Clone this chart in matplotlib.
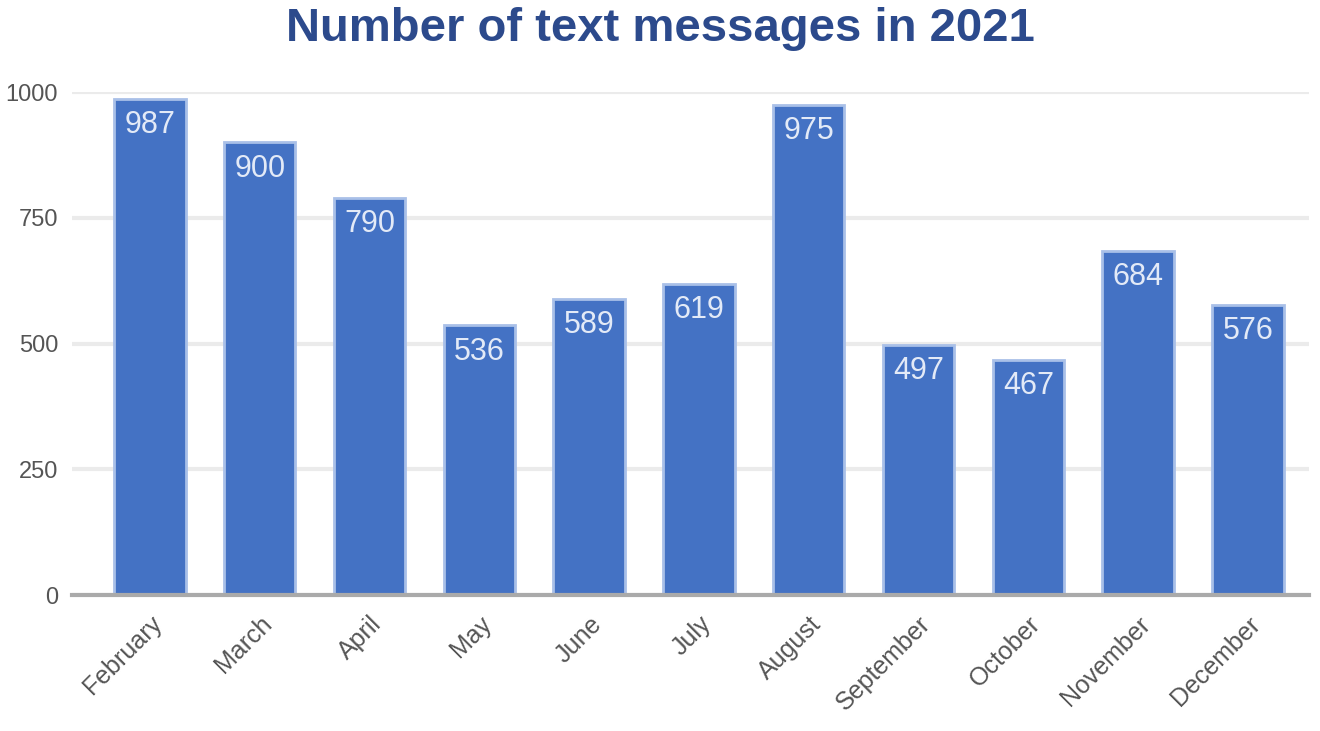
import matplotlib.pyplot as plt

months = ['February', 'March', 'April', 'May', 'June', 'July', 'August',
          'September', 'October', 'November', 'December']
messages = [987, 900, 790, 536, 589, 619, 975, 497, 467, 684, 576]
yticks = [0, 250, 500, 750, 1000]

plt.rcParams['font.family'] = ['Liberation Sans', 'DejaVu Sans']

fig = plt.figure(figsize=(13.2, 7.31), dpi=100)
ax = fig.add_axes([0.0545, 0.186, 0.9375, 0.688])

x = list(range(len(months)))
bars = ax.bar(x, messages, width=0.65, color='#4472C4',
              edgecolor='#A9C0E8', linewidth=2, zorder=3)

for xi, v in zip(x, messages):
    ax.annotate(str(v), (xi, v), xytext=(0, -8), textcoords='offset points',
                ha='center', va='top', fontsize=22, color='#E3EAF7', zorder=4)

ax.set_xlim(-0.71, 10.56)
ax.set_ylim(0, 1000)
ax.set_yticks(yticks)
ax.set_yticklabels([str(t) for t in yticks], fontsize=17, color='#555555')
ax.set_xticks(x)
ax.set_xticklabels(months, rotation=45, ha='right', rotation_mode='anchor',
                   fontsize=18, color='#555555')
ax.tick_params(axis='both', length=0, pad=12)
ax.tick_params(axis='y', pad=10)

ax.grid(axis='y', color='#EBEBEB', linewidth=3, zorder=0)
ax.set_axisbelow(True)
for side in ['top', 'right', 'left']:
    ax.spines[side].set_visible(False)
ax.spines['bottom'].set_color('#AAAAAA')
ax.spines['bottom'].set_linewidth(3)
ax.spines['bottom'].set_zorder(5)

fig.suptitle('Number of text messages in 2021', fontsize=34, fontweight='bold',
             color='#2C4A8C', x=0.5, y=0.99, va='top')

fig.savefig('out.png', dpi=100)
